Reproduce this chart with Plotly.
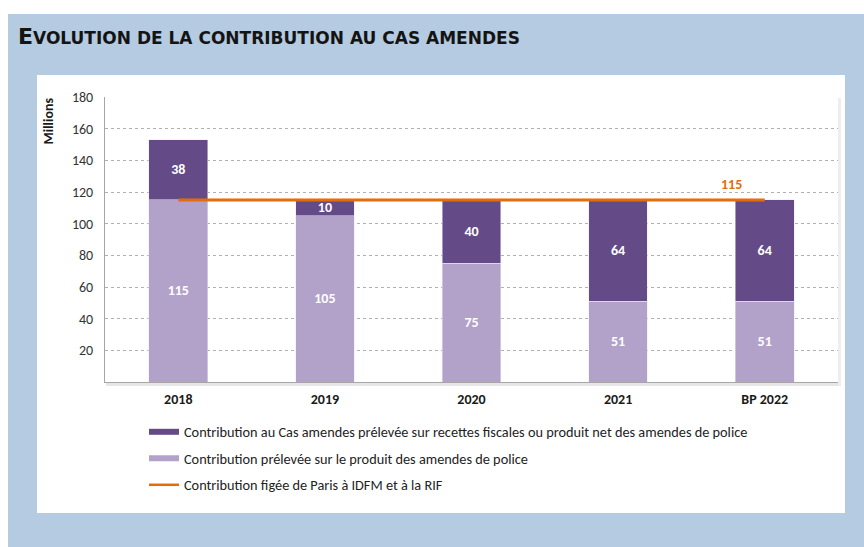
import plotly.graph_objects as go

categories = ["2018", "2019", "2020", "2021", "BP 2022"]
police_product = [115, 105, 75, 51, 51]
fiscal_contrib = [38, 10, 40, 64, 64]
frozen_contrib = [115, 115, 115, 115, 115]

names = [
    "Contribution au Cas amendes prélevée sur recettes fiscales ou produit net des amendes de police",
    "Contribution prélevée sur le produit des amendes de police",
    "Contribution figée de Paris à IDFM et à la RIF",
]

DARK = "#644b87"
LIGHT = "#b2a2ca"
ORANGE = "#e46c0a"
CAL = "Carlito, Liberation Sans, sans-serif"

W, H = 864, 547
L, R, T, B = 105, 838, 97, 382

def px_x(p):
    return (p - L) / (R - L)

def px_y(p):
    return (B - p) / (B - T)

fig = go.Figure()
bar_text = dict(color="white", size=14, family=CAL, weight="bold")
fig.add_trace(go.Bar(
    x=categories, y=police_product, name=names[1], marker_color=LIGHT,
    text=police_product, textposition="inside", insidetextanchor="middle",
    textangle=0, textfont=bar_text, showlegend=False,
))
fig.add_trace(go.Bar(
    x=categories, y=fiscal_contrib, name=names[0], marker_color=DARK,
    text=fiscal_contrib, textposition="inside", insidetextanchor="middle",
    textangle=0, textfont=bar_text, showlegend=False,
))
fig.add_trace(go.Scatter(
    x=categories, y=frozen_contrib, name=names[2], mode="lines",
    line=dict(color=ORANGE, width=3), showlegend=False,
))

# legend entries (wide swatches like the original), one legend per row
legend_ids = ["legend", "legend2", "legend3"]
legend_rows = [432, 458.5, 485]
for i, (nm, col, wd) in enumerate([(names[0], DARK, 6), (names[1], LIGHT, 6), (names[2], ORANGE, 2.5)]):
    fig.add_trace(go.Scatter(
        x=[None], y=[None], mode="lines", name=nm, line=dict(color=col, width=wd),
        legend=legend_ids[i],
    ))

fig.add_annotation(
    x=categories[-1], y=frozen_contrib[-1], text="<b>%d</b>" % frozen_contrib[-1],
    showarrow=False, xshift=-33, yshift=15,
    font=dict(color=ORANGE, size=14, family=CAL),
)

fig.add_annotation(
    x=px_x(48), y=px_y(96), xref="paper", yref="paper", text="<b>Millions</b>",
    textangle=-90, showarrow=False, xanchor="center", yanchor="top",
    font=dict(color="#1a1a1a", size=14, family=CAL),
)

title = "<b>E<span style='font-size:17px'>VOLUTION DE LA CONTRIBUTION AU CAS AMENDES</span></b>"
fig.add_annotation(
    x=px_x(16), y=px_y(36), xref="paper", yref="paper", text=title,
    showarrow=False, xanchor="left", yanchor="middle",
    font=dict(color="#141414", size=22, family="DejaVu Sans"),
)

shapes = [
    dict(type="rect", xref="paper", yref="paper", layer="below",
         x0=px_x(8), x1=px_x(W), y0=px_y(14), y1=px_y(H),
         fillcolor="#b4cbe2", line=dict(width=0)),
    dict(type="rect", xref="paper", yref="paper", layer="below",
         x0=px_x(37), x1=px_x(845), y0=px_y(75), y1=px_y(513),
         fillcolor="white", line=dict(width=0)),
    # soft shadow of the plot frame
    dict(type="rect", xref="paper", yref="paper", layer="below",
         x0=px_x(106), x1=px_x(841), y0=px_y(386), y1=px_y(382),
         fillcolor="#e6e6e6", line=dict(width=0)),
    dict(type="rect", xref="paper", yref="paper", layer="below",
         x0=px_x(838), x1=px_x(841), y0=px_y(386), y1=px_y(98),
         fillcolor="#eeeeee", line=dict(width=0)),
]

legend_style = dict(
    x=px_x(144), xanchor="left", yanchor="middle", orientation="v",
    font=dict(size=14.3, family=CAL, color="#222"),
    bgcolor="rgba(0,0,0,0)",
)

fig.update_layout(
    width=W, height=H,
    margin=dict(l=L, r=W - R, t=T, b=H - B),
    paper_bgcolor="white", plot_bgcolor="white",
    barmode="stack", bargap=0.6,
    shapes=shapes,
    showlegend=True,
    legend=dict(y=px_y(legend_rows[0]), **legend_style),
    legend2=dict(y=px_y(legend_rows[1]), **legend_style),
    legend3=dict(y=px_y(legend_rows[2]), **legend_style),
    uniformtext=dict(minsize=14, mode="show"),
    font=dict(family=CAL, color="#333"),
)
fig.update_xaxes(
    showline=True, linecolor="#a6a6a6", linewidth=1, showgrid=False,
    tickfont=dict(size=14, family=CAL, color="#1a1a1a", weight="bold"),
    ticks="", ticklabelstandoff=4,
)
fig.update_yaxes(
    range=[0, 180], tickvals=[20, 40, 60, 80, 100, 120, 140, 160, 180],
    showline=True, linecolor="#a6a6a6", linewidth=1,
    showgrid=True, gridcolor="#b0b0b0", griddash="dot", gridwidth=1,
    zeroline=False, tickfont=dict(size=14, family=CAL, color="#333"),
    ticks="", ticklabelstandoff=8,
)

fig.write_html("out.html", config={"displayModeBar": False},
               post_script="document.body.style.margin='0';")
